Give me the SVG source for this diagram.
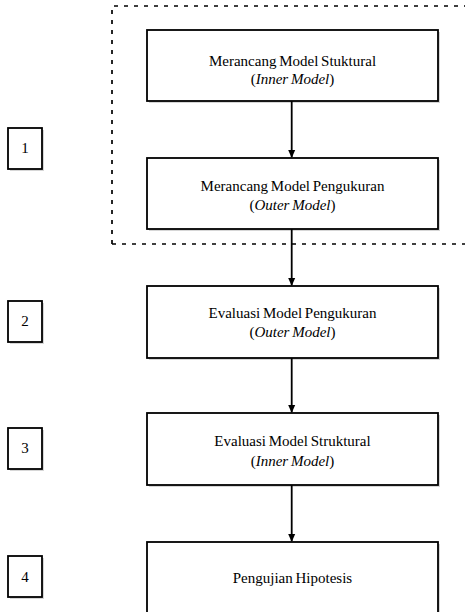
<svg xmlns="http://www.w3.org/2000/svg" width="465" height="612" viewBox="0 0 465 612">
<defs>
<marker id="ah" markerWidth="8" markerHeight="12" refX="7" refY="3.5" orient="auto" markerUnits="userSpaceOnUse" viewBox="0 0 8 7">
<path d="M0,0 L8,3.5 L0,7 Z" fill="#000"/>
</marker>
</defs>
<style>
.box{fill:#fff;stroke:#000;stroke-width:1.8}
.sh{fill:#d6d6d6}
text{font-family:'Liberation Serif','Tinos','DejaVu Serif',serif;fill:#000;text-anchor:middle}
.t{font-size:15px;word-spacing:-1px}
.i{font-style:italic}
.n{font-size:15px}
.c{stroke:#000;stroke-width:1.8;fill:none}
.d{fill:none;stroke:#000;stroke-width:1.7;stroke-dasharray:4 6}
</style>
<path class="d" d="M112,244 L112,6 L468,6 M112,244 L468,244"/>
<g id="step1"><rect class="sh" x="10" y="130" width="34" height="41"/><rect class="box" x="8" y="128" width="34" height="41"/><text class="n" x="25" y="153">1</text></g>
<g id="step2"><rect class="sh" x="10" y="303" width="34" height="41"/><rect class="box" x="8" y="301" width="34" height="41"/><text class="n" x="25" y="326">2</text></g>
<g id="step3"><rect class="sh" x="10" y="430" width="34" height="41"/><rect class="box" x="8" y="428" width="34" height="41"/><text class="n" x="25" y="453">3</text></g>
<g id="step4"><rect class="sh" x="10" y="558" width="34" height="41"/><rect class="box" x="8" y="556" width="34" height="41"/><text class="n" x="25" y="582">4</text></g>
<g id="n1"><rect class="sh" x="149" y="32" width="291" height="71"/><rect class="box" x="147" y="30" width="291" height="71"/><text class="t" x="292.5" y="66">Merancang Model Stuktural</text><text class="t" x="292.5" y="84">(<tspan class="i">Inner Model</tspan>)</text></g>
<g id="n2"><rect class="sh" x="149" y="160" width="291" height="71"/><rect class="box" x="147" y="158" width="291" height="71"/><text class="t" x="292.5" y="191">Merancang Model Pengukuran</text><text class="t" x="292.5" y="210">(<tspan class="i">Outer Model</tspan>)</text></g>
<g id="n3"><rect class="sh" x="149" y="288" width="291" height="72"/><rect class="box" x="147" y="286" width="291" height="72"/><text class="t" x="292.5" y="318">Evaluasi Model Pengukuran</text><text class="t" x="292.5" y="337">(<tspan class="i">Outer Model</tspan>)</text></g>
<g id="n4"><rect class="sh" x="149" y="415" width="291" height="72"/><rect class="box" x="147" y="413" width="291" height="72"/><text class="t" x="292.5" y="446">Evaluasi Model Struktural</text><text class="t" x="292.5" y="466">(<tspan class="i">Inner Model</tspan>)</text></g>
<g id="n5"><rect class="sh" x="149" y="544" width="291" height="72"/><rect class="box" x="147" y="542" width="291" height="72"/><text class="t" x="292.5" y="583">Pengujian Hipotesis</text></g>
<g id="connectors">
<line class="c" x1="291.7" y1="101" x2="291.7" y2="157" marker-end="url(#ah)"/>
<line class="c" x1="291.7" y1="229" x2="291.7" y2="285" marker-end="url(#ah)"/>
<line class="c" x1="291.7" y1="358" x2="291.7" y2="412" marker-end="url(#ah)"/>
<line class="c" x1="291.7" y1="485" x2="291.7" y2="541" marker-end="url(#ah)"/>
</g>
</svg>
